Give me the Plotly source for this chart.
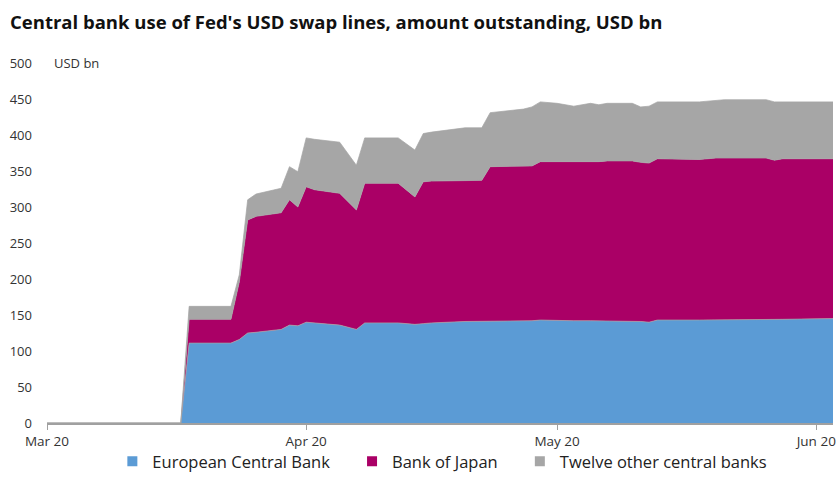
import plotly.graph_objects as go

dates = ["2020-03-01", "2020-03-17", "2020-03-18", "2020-03-23", "2020-03-24", "2020-03-25",
         "2020-03-26", "2020-03-29", "2020-03-30", "2020-03-31", "2020-04-01", "2020-04-02",
         "2020-04-05", "2020-04-07", "2020-04-08", "2020-04-12", "2020-04-14", "2020-04-15",
         "2020-04-16", "2020-04-20", "2020-04-22", "2020-04-23", "2020-04-27", "2020-04-28",
         "2020-04-29", "2020-05-01", "2020-05-03", "2020-05-05", "2020-05-06", "2020-05-07",
         "2020-05-10", "2020-05-11", "2020-05-12", "2020-05-13", "2020-05-18", "2020-05-20",
         "2020-05-21", "2020-05-26", "2020-05-27", "2020-05-28", "2020-06-03"]

ecb = [0, 0, 111, 111, 116, 125, 126, 130, 136, 135, 140, 139,
       136, 130, 139, 139, 137, 138, 139, 141, 141, 142, 142, 142,
       143, 142, 142, 142, 142, 142, 142, 141, 140, 143, 143, 143,
       143, 143, 143, 144, 145]

boj = [0, 0, 33, 33, 80, 157, 161, 162, 174, 165, 188, 185,
       183, 166, 194, 194, 177, 197, 197, 195, 196, 214, 215, 215,
       220, 221, 220, 221, 221, 222, 222, 221, 221, 224, 223, 225,
       225, 225, 222, 223, 222]

others = [0, 0, 18, 18, 10, 28, 31, 34, 46, 49, 68, 70,
          71, 62, 63, 63, 65, 67, 68, 74, 73, 75, 79, 82,
          83, 81, 78, 81, 79, 80, 80, 77, 79, 79, 80, 80,
          81, 81, 81, 79, 79]

series_names = ["European Central Bank", "Bank of Japan", "Twelve other central banks"]
series_colors = ["#5b9bd5", "#aa0066", "#a6a6a6"]
series_values = [ecb, boj, others]

tick_dates = ["2020-03-01", "2020-04-01", "2020-05-01", "2020-06-01"]
tick_labels = ["Mar 20", "Apr 20", "May 20", "Jun 20"]
y_ticks = [0, 50, 100, 150, 200, 250, 300, 350, 400, 450, 500]

fig = go.Figure()
for name, col, vals in zip(series_names, series_colors, series_values):
    fig.add_trace(go.Scatter(
        x=dates, y=vals, name=name, stackgroup="one", mode="lines",
        line=dict(width=0.8, color="rgba(165,165,165,0.9)"),
        fillcolor=col, showlegend=False, hoverinfo="skip"))
pad = "\u00a0" * 4
for i, (name, col) in enumerate(zip(series_names, series_colors)):
    label = name + (pad if i < len(series_names) - 1 else "")
    fig.add_trace(go.Scatter(
        x=[None], y=[None], name=label, mode="markers",
        marker=dict(symbol="square", size=10, color=col)))

fig.update_layout(
    width=838, height=491,
    margin=dict(l=47, r=5, t=63, b=68, autoexpand=False),
    paper_bgcolor="white", plot_bgcolor="white",
    font=dict(family="Open Sans", color="#333333", size=13),
    title=dict(text="<b>Central bank use of Fed's USD swap lines, amount outstanding, USD bn</b>",
               x=0.012, xanchor="left", y=0.955, yanchor="middle",
               font=dict(size=18.5, color="#111111")),
    legend=dict(orientation="h", x=0.503, xanchor="center",
                yref="container", y=0.06, yanchor="middle",
                bgcolor="rgba(0,0,0,0)",
                font=dict(size=16.5, color="#222222"), itemwidth=30,
                traceorder="normal"),
    showlegend=True,
)
fig.update_xaxes(
    type="date", range=["2020-03-01", "2020-06-03"],
    tickvals=tick_dates, ticktext=tick_labels,
    showgrid=False, showline=True, linecolor="#a0a0a0", linewidth=1.5,
    ticks="outside", ticklen=5, tickcolor="#a0a0a0", zeroline=False,
    tickfont=dict(size=13.5, color="#333333"))
fig.update_yaxes(
    range=[0, 500], tickvals=y_ticks, showgrid=False, showline=False, zeroline=False,
    ticks="", ticklabelstandoff=14, tickfont=dict(size=13, color="#333333"))
fig.add_annotation(text="USD bn", xref="paper", yref="y", x=0.006, y=500,
                   xanchor="left", yanchor="middle", showarrow=False,
                   font=dict(size=13, color="#333333"))

fig.write_html("out.html")
